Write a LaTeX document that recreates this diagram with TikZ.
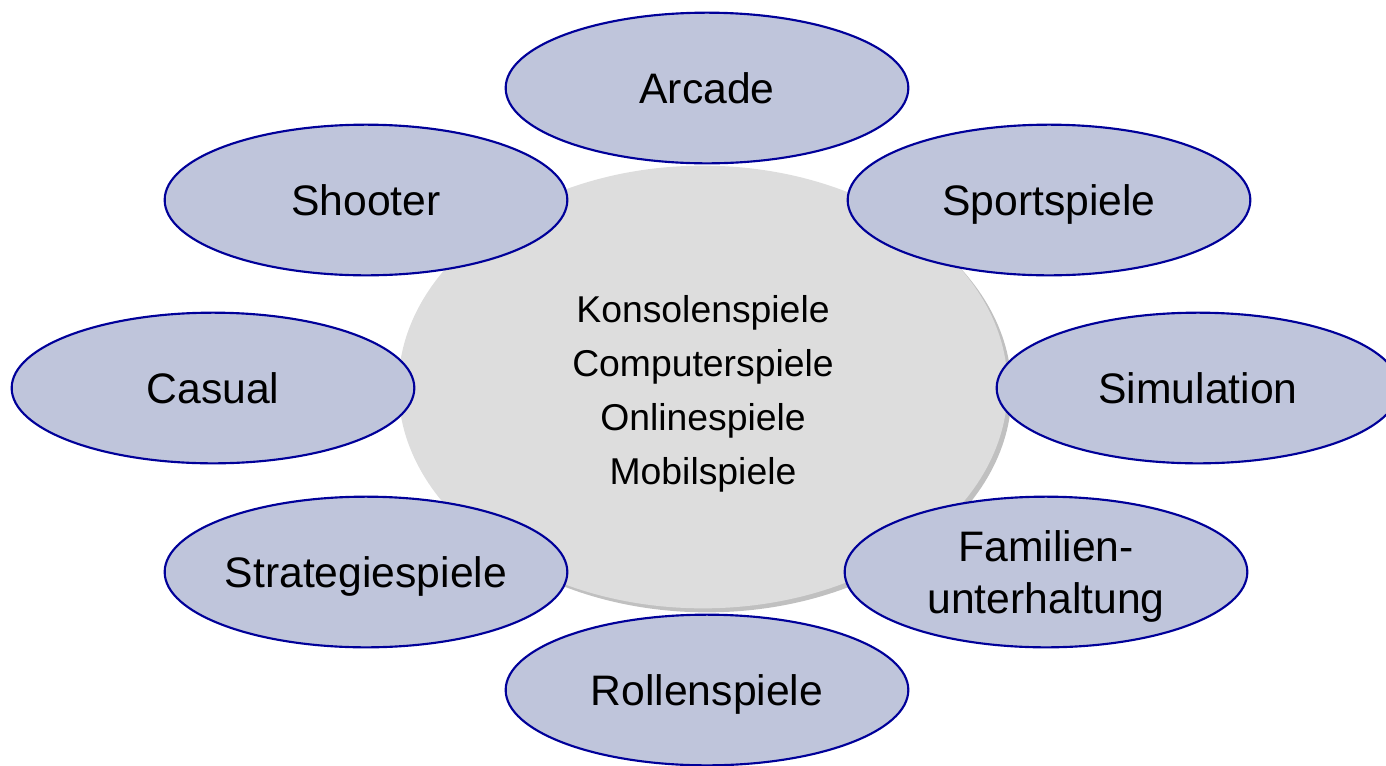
\documentclass[tikz,border=0pt]{standalone}
\usepackage{fontspec}
\setmainfont{Liberation Sans}
\usetikzlibrary{shapes.geometric,shadows}

\definecolor{genrefill}{RGB}{191,197,219}
\definecolor{genreline}{RGB}{0,0,153}
\definecolor{corefill}{RGB}{221,221,221}
\definecolor{coreshadow}{RGB}{192,192,192}

\tikzset{
  genre/.style={ellipse, draw=genreline, line width=1.6pt, fill=genrefill,
    minimum width=302pt, minimum height=113pt, inner sep=0pt, align=center,
    text height=22.5pt, text depth=0pt,
    font=\fontsize{32}{39}\selectfont},
  core/.style={ellipse, fill=corefill, minimum width=457pt, minimum height=332pt,
    inner sep=0pt,
    drop shadow={shadow xshift=3pt, shadow yshift=-3pt, fill=coreshadow, opacity=1}},
  coretext/.style={align=center, inner sep=0pt, font=\fontsize{28}{40.5}\selectfont}
}

\begin{document}
\begin{tikzpicture}[x=0.75pt,y=0.75pt,yscale=-1,xscale=1]
%set diagram left start at 0, and has height of 765
\useasboundingbox (0,0) rectangle (1386,765);
\clip (0,0) rectangle (1386,765);

%Shape: Ellipse [center]
\node (spiele) [core] at (703,387) {};
% Text Node
\node (liste) [coretext] at (703,394) {Konsolenspiele\\Computerspiele\\Onlinespiele\\Mobilspiele};

%Shape: Ellipse [top]
\node (arcade) [genre] at (707,88) {Arcade};
%Shape: Ellipse [upper left]
\node (shooter) [genre] at (366,200) {Shooter};
%Shape: Ellipse [upper right]
\node (sport) [genre] at (1049,200) {Sportspiele};
%Shape: Ellipse [left]
\node (casual) [genre] at (213,388) {Casual};
%Shape: Ellipse [right]
\node (simulation) [genre] at (1198,388) {Simulation};
%Shape: Ellipse [lower left]
\node (strategie) [genre] at (366,572) {Strategiespiele};
%Shape: Ellipse [lower right]
\node (familie) [genre, text height=61.5pt] at (1046,572) {Familien-\\unterhaltung};
%Shape: Ellipse [bottom]
\node (rollen) [genre] at (707,690) {Rollenspiele};

\end{tikzpicture}
\end{document}
